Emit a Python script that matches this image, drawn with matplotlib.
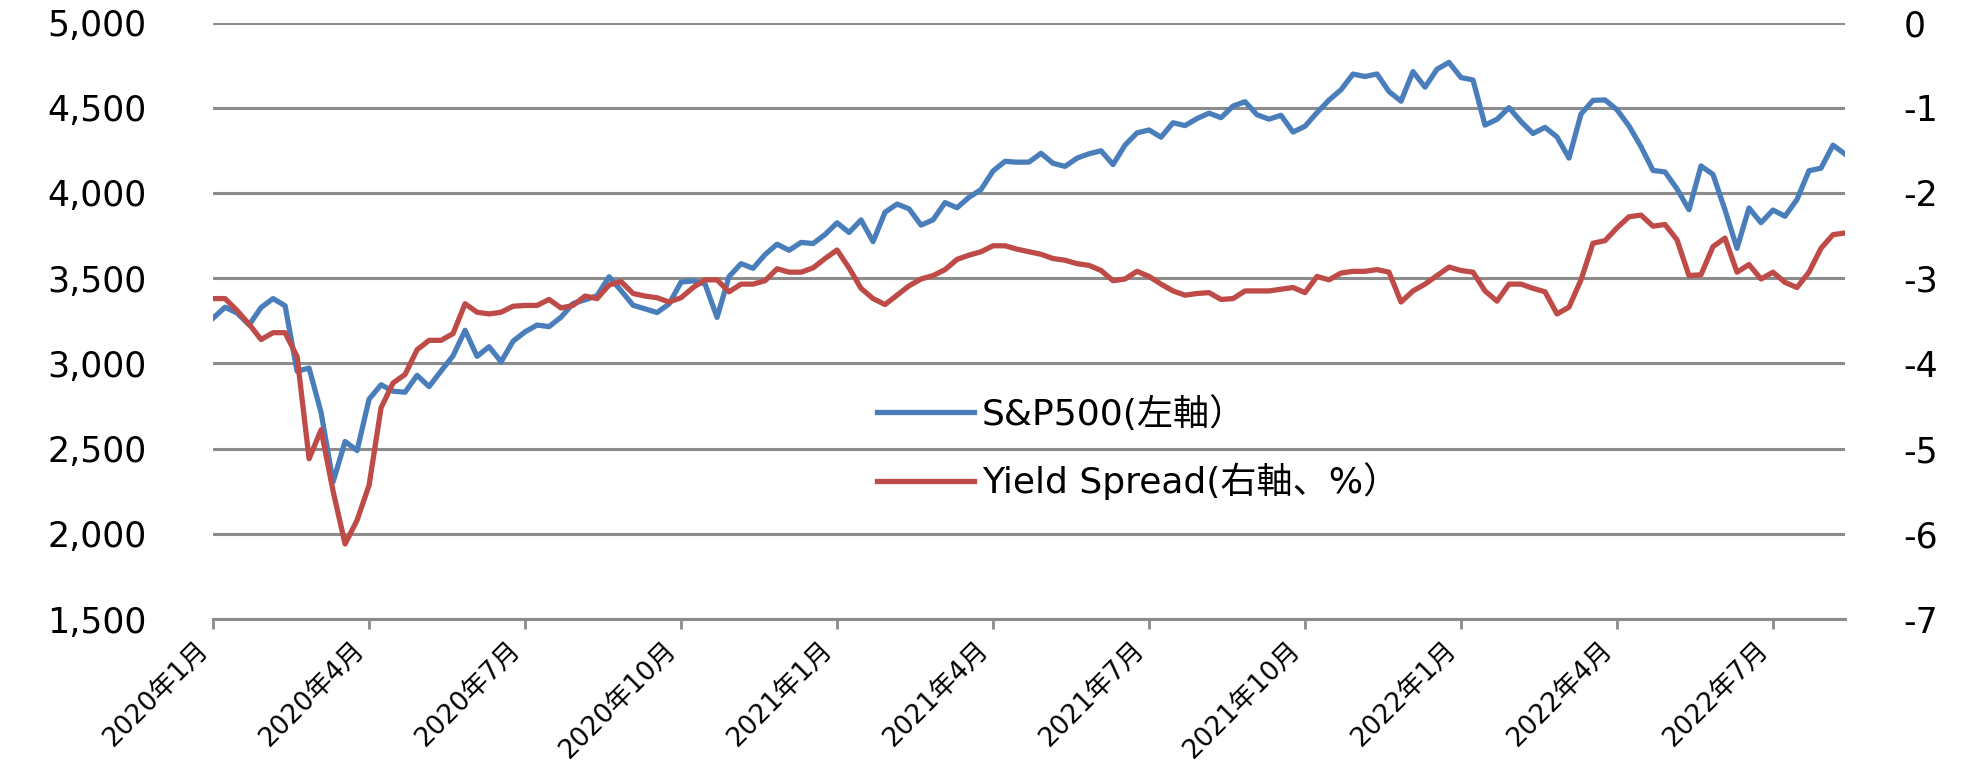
import matplotlib
matplotlib.use('Agg')
import matplotlib.pyplot as plt
from matplotlib.ticker import FuncFormatter

plt.rcParams['font.family'] = ['DejaVu Sans', 'Noto Sans CJK JP']
plt.rcParams['axes.unicode_minus'] = False

# Weekly data, 2020-01-10 .. 2022-08-19 (137 weeks)
sp500 = [
    3265.35, 3329.62, 3295.47, 3225.52, 3327.71, 3380.16, 3337.75, 2954.22,
    2972.37, 2711.02, 2304.92, 2541.47, 2488.65, 2789.82, 2874.56, 2836.74,
    2830.71, 2929.80, 2863.70, 2955.45, 3044.31, 3193.93, 3041.31, 3097.74,
    3009.05, 3130.01, 3185.04, 3224.73, 3215.63, 3271.12, 3351.28, 3372.85,
    3397.16, 3508.01, 3426.96, 3340.97, 3319.47, 3298.46, 3348.44, 3477.13,
    3483.81, 3465.39, 3269.96, 3509.44, 3585.15, 3557.54, 3638.35, 3699.12,
    3663.46, 3709.41, 3703.06, 3756.07,
    3824.68, 3768.25, 3841.47, 3714.24, 3886.83, 3934.83, 3906.71, 3811.15,
    3841.94, 3943.34, 3913.10, 3974.54, 4019.87, 4128.80, 4185.47, 4180.17,
    4181.17, 4232.60, 4173.85, 4155.86, 4204.11, 4229.89, 4247.44, 4166.45,
    4280.70, 4352.34, 4369.55, 4327.16, 4411.79, 4395.26, 4436.52, 4468.00,
    4441.67, 4509.37, 4535.43, 4458.58, 4432.99, 4455.48, 4357.04, 4391.34,
    4471.37, 4544.90, 4605.38, 4697.53, 4682.85, 4697.96, 4594.62, 4538.43,
    4712.02, 4620.64, 4725.79, 4766.18,
    4677.03, 4662.85, 4397.94, 4431.85, 4500.53, 4418.64, 4348.87, 4384.65,
    4328.87, 4204.31, 4463.12, 4543.06, 4545.86, 4488.28, 4392.59, 4271.78,
    4131.93, 4123.34, 4023.89, 3901.36, 4158.24, 4108.54, 3900.86, 3674.84,
    3911.74, 3825.33, 3899.38, 3863.16, 3961.63, 4130.29, 4145.19, 4280.15,
    4228.48,
]

yield_spread = [
    -3.24, -3.24, -3.38, -3.54, -3.72, -3.64, -3.64, -3.92, -5.12, -4.78,
    -5.50, -6.12, -5.84, -5.43, -4.52, -4.23, -4.13, -3.84, -3.73, -3.73,
    -3.65, -3.30, -3.40, -3.42, -3.40, -3.33, -3.32, -3.32, -3.25, -3.35,
    -3.32, -3.21, -3.24, -3.08, -3.04, -3.18, -3.21, -3.23, -3.28, -3.23,
    -3.11, -3.02, -3.02, -3.16, -3.07, -3.07, -3.03, -2.89, -2.93, -2.93,
    -2.88, -2.77, -2.67, -2.88, -3.12, -3.24, -3.31, -3.20, -3.09, -3.01,
    -2.97, -2.90, -2.78, -2.73, -2.69, -2.62, -2.62, -2.66, -2.69, -2.72,
    -2.77, -2.79, -2.83, -2.85, -2.91, -3.03, -3.01, -2.92, -2.98, -3.07,
    -3.15, -3.20, -3.18, -3.17, -3.25, -3.24, -3.15, -3.15, -3.15, -3.13,
    -3.11, -3.17, -2.98, -3.02, -2.94, -2.92, -2.92, -2.90, -2.93, -3.28,
    -3.15, -3.07, -2.97, -2.87, -2.91, -2.93, -3.15, -3.27, -3.07, -3.07,
    -3.12, -3.16, -3.42, -3.34, -3.02, -2.59, -2.56, -2.41, -2.28, -2.26,
    -2.39, -2.37, -2.55, -2.97, -2.96, -2.63, -2.53, -2.93, -2.84, -3.01,
    -2.93, -3.05, -3.11, -2.93, -2.65, -2.49, -2.47,
]

tick_labels = ['2020年1月', '2020年4月', '2020年7月', '2020年10月',
               '2021年1月', '2021年4月', '2021年7月', '2021年10月',
               '2022年1月', '2022年4月', '2022年7月']

blue = '#4a7ebb'
red = '#be4b48'
grid_gray = '#8c8c8c'

x = list(range(len(sp500)))

fig = plt.figure(figsize=(19.64, 7.68), dpi=100)
ax = fig.add_axes([0.1085, 0.194, 0.8309, 0.7767])
ax2 = ax.twinx()

l1, = ax.plot(x, sp500, color=blue, lw=3.8, label='S&P500(左軸）', zorder=3)
l2, = ax2.plot(x, yield_spread, color=red, lw=3.8, label='Yield Spread(右軸、%）', zorder=3)

ax.set_xlim(0, len(sp500) - 1)
ax.set_ylim(1500, 5000)
ax2.set_ylim(-7, 0)

ax.set_yticks(range(1500, 5001, 500))
ax.yaxis.set_major_formatter(FuncFormatter(lambda v, p: f'{int(v):,}'))
ax2.set_yticks(range(-7, 1))
ax2.yaxis.set_major_formatter(FuncFormatter(lambda v, p: f'{int(v)}'))

ax.set_xticks(range(0, len(sp500), 13))
ax.set_xticklabels(tick_labels, rotation=45, ha='right')

ax.grid(axis='y', color=grid_gray, lw=2.2)
ax.set_axisbelow(True)

for a in (ax, ax2):
    for s in ('top', 'left', 'right', 'bottom'):
        a.spines[s].set_visible(False)
ax.spines['bottom'].set_visible(True)
ax.spines['bottom'].set_color(grid_gray)
ax.spines['bottom'].set_linewidth(2.2)

ax.tick_params(axis='y', length=0, labelsize=25, pad=48)
ax2.tick_params(axis='y', length=0, labelsize=25, pad=42)
ax.tick_params(axis='x', length=7, width=2, color=grid_gray, labelsize=19, pad=6)

fig.legend(handles=[l1, l2], loc='center left', bbox_to_anchor=(0.4465, 0.4167),
           frameon=False, fontsize=26, handlelength=2.7, handletextpad=0.2,
           labelspacing=0.85, borderpad=0, borderaxespad=0)

fig.savefig('out.png', dpi=100)
